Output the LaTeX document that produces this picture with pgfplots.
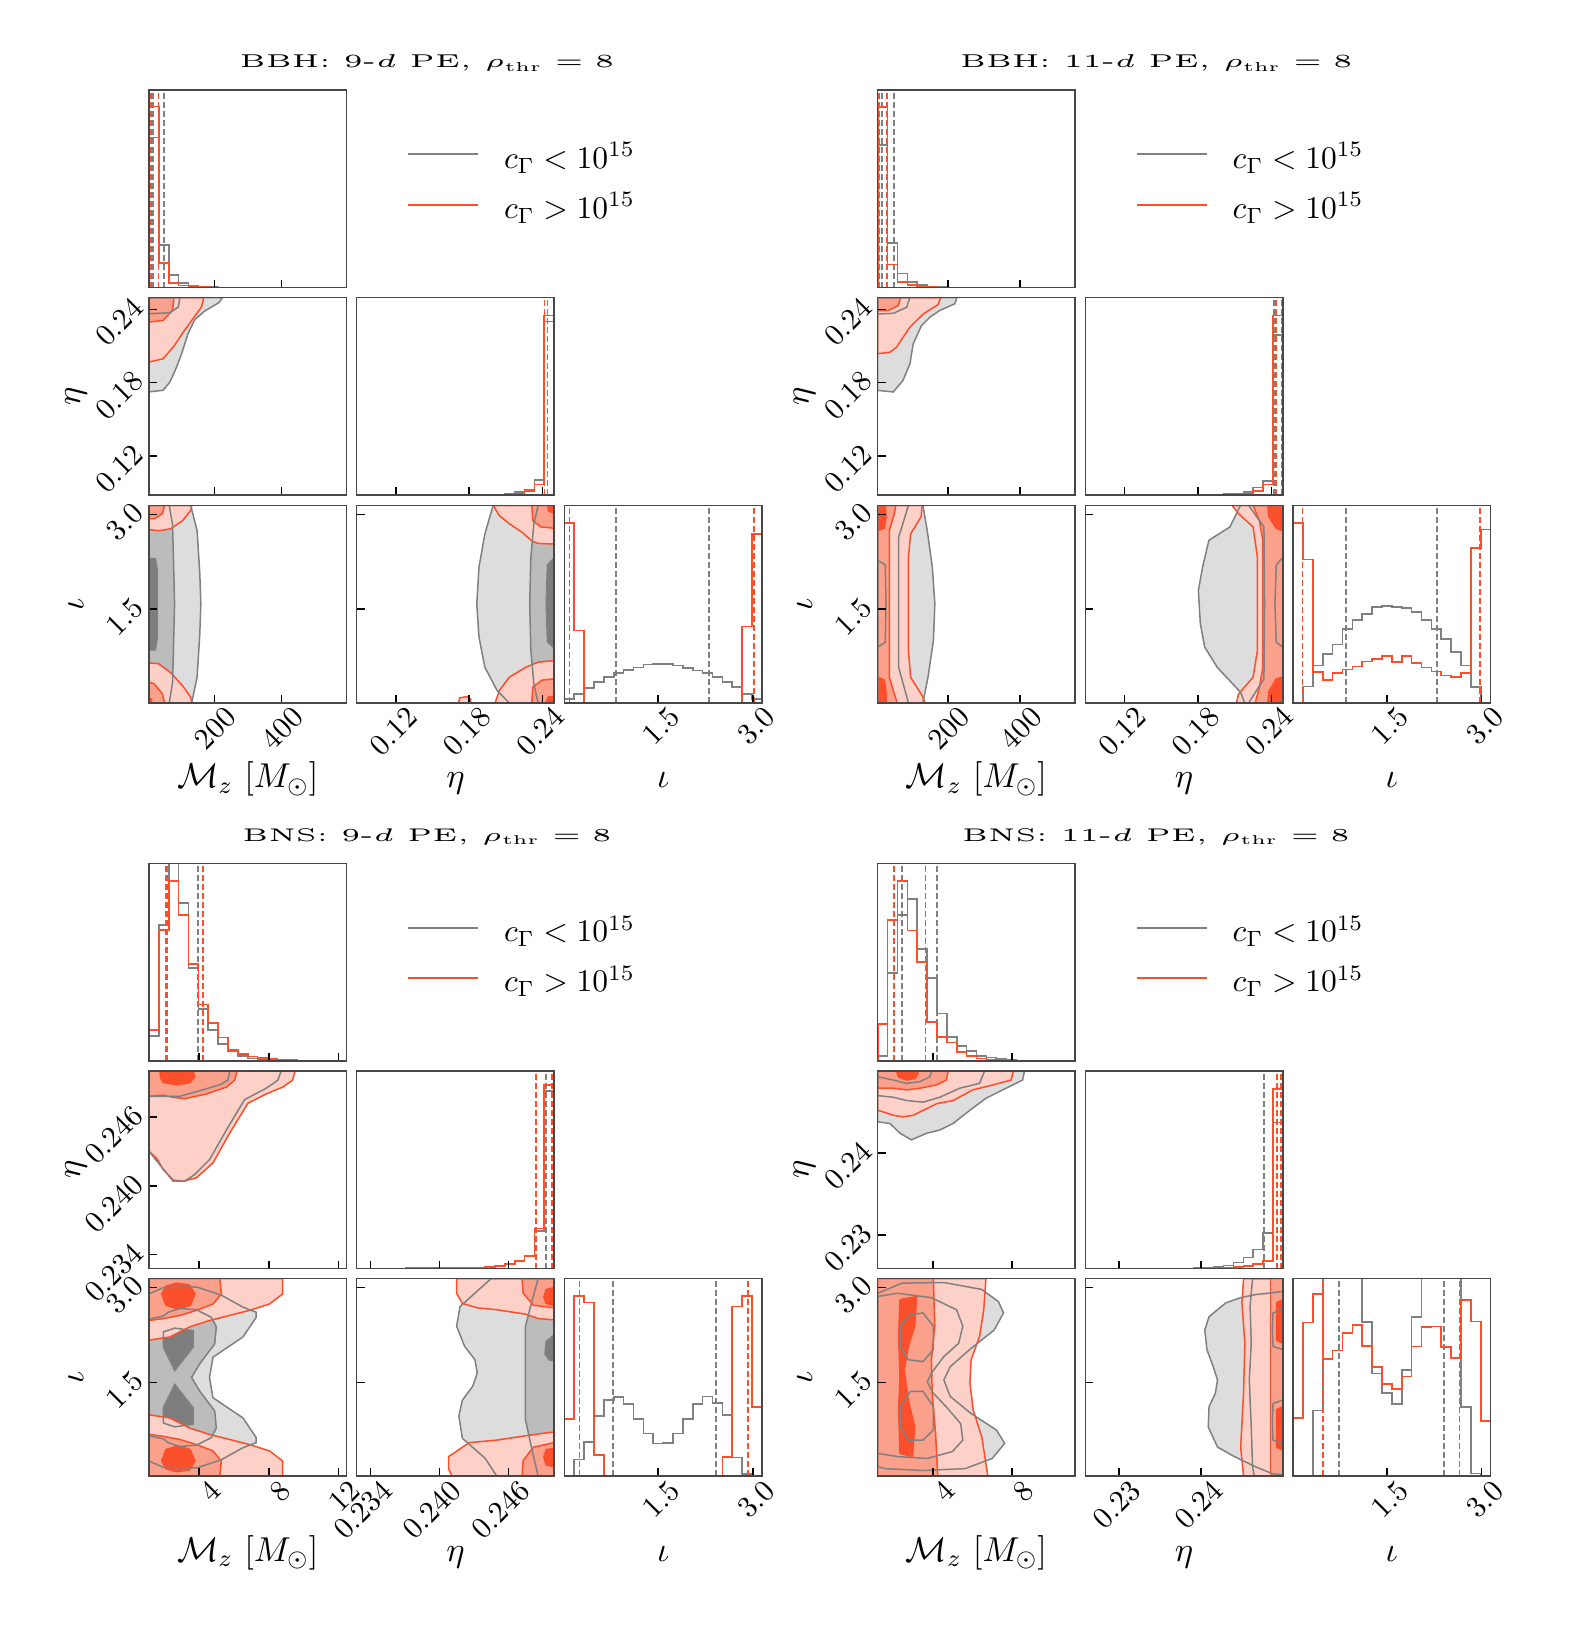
\RequirePackage{fix-cm}
\documentclass[border=0pt]{standalone}
\usepackage{graphicx}
\usepackage{pgfplots}
\usepackage{pgfplotstable}
\pgfplotsset{compat=1.18}

\definecolor{cred}{RGB}{252,78,42}
\definecolor{gline}{RGB}{128,128,128}
\definecolor{gl}{RGB}{221,221,221}
\definecolor{gm}{RGB}{188,188,188}
\definecolor{gd}{RGB}{125,125,125}
\definecolor{rl}{RGB}{253,209,199}
\definecolor{rm}{RGB}{251,160,138}
\definecolor{rd}{RGB}{252,80,44}

\pgfplotsset{
  panel/.style={
    scale only axis, width=65.83pt, height=65.83pt, anchor=north west,
    axis on top, scaled ticks=false,
    axis line style={black!72, line width=0.5pt},
    tick align=inside, xtick pos=left, ytick pos=left,
    major tick length=2.6pt, major tick style={black, line width=0.5pt},
    ytick=\empty, xticklabels={}, yticklabels={},
    tick label style={font=\fontsize{10}{12}\selectfont, inner sep=0pt},
    xticklabel style={xshift=5.6pt, yshift=-3.05pt, rotate=45, anchor=east},
    yticklabel style={xshift=-3.55pt, yshift=2.2pt, rotate=45, anchor=east},
    label style={font=\fontsize{11.5}{13}\selectfont},
    xlabel style={at={(axis description cs:0.5,-0.43)}, anchor=base},
    ylabel style={at={(axis description cs:-0.37,0.5)}, anchor=center},
  },
  hg/.style={const plot, gline, line width=0.55pt, mark=none},
  hr/.style={const plot, cred, line width=0.55pt, mark=none},
  qg/.style={gline, dash pattern=on 2pt off 1pt, line width=0.6pt, mark=none},
  qr/.style={cred, dash pattern=on 2pt off 1pt, line width=0.6pt, mark=none},
  gA/.style={fill=gl, draw=none, mark=none},
  gB/.style={fill=gm, draw=none, mark=none},
  gC/.style={fill=gd, draw=none, mark=none},
  gL/.style={draw=gline, line width=0.5pt, mark=none},
  rA/.style={fill=rl, draw=cred, line width=0.5pt, mark=none},
  rB/.style={fill=rm, draw=cred, line width=0.5pt, mark=none},
  rC/.style={fill=rd, draw=cred, line width=0.5pt, mark=none},
}
\newcommand{\ttl}[2]{\fontsize{5}{6}\selectfont #1: #2-$d$ PE, $\rho_{\mbox{\fontsize{3.5}{4}\selectfont thr}} = 8$}

%% gray contour regions (filled first, outlined again above the red fills)
% BBH 9-d
\pgfplotstableread[row sep=\\]{x y\\ 6 0.2495\\ 224 0.2495\\ 214 0.2455\\ 172 0.2387\\ 142 0.2316\\ 122 0.2201\\ 103 0.2038\\ 88 0.1928\\ 68 0.1805\\ 48 0.1738\\ 6 0.1725\\ 6 0.2495\\}\gpAa
\pgfplotstableread[row sep=\\]{x y\\ 6 0.2495\\ 98 0.2495\\ 93 0.2419\\ 68 0.2372\\ 6 0.2364\\ 6 0.2495\\}\gpAb
\pgfplotstableread[row sep=\\]{x y\\ 6 3.14\\ 130 3.14\\ 149 2.74\\ 157 2.06\\ 160 1.59\\ 157 1.11\\ 149 0.43\\ 133 0.02\\ 6 0.02\\ 6 3.14\\}\gpBa
\pgfplotstableread[row sep=\\]{x y\\ 6 3.14\\ 66 3.14\\ 76 2.84\\ 82 1.59\\ 76 0.34\\ 66 0.02\\ 6 0.02\\ 6 3.14\\}\gpBb
\pgfplotstableread[row sep=\\]{x y\\ 6 2.30\\ 25 2.30\\ 31 2.10\\ 31 1.06\\ 25 0.86\\ 6 0.86\\ 6 2.30\\}\gpBc
\pgfplotstableread[row sep=\\]{x y\\ 0.2495 3.14\\ 0.1996 3.14\\ 0.1928 2.69\\ 0.1880 2.165\\ 0.1862 1.586\\ 0.1880 1.06\\ 0.1928 0.584\\ 0.2028 0.215\\ 0.2128 0.02\\ 0.2495 0.02\\ 0.2495 3.14\\}\gpCa
\pgfplotstableread[row sep=\\]{x y\\ 0.2495 3.14\\ 0.2363 3.14\\ 0.2329 2.85\\ 0.2304 2.32\\ 0.2295 1.586\\ 0.2304 0.85\\ 0.2329 0.32\\ 0.2363 0.02\\ 0.2495 0.02\\ 0.2495 3.14\\}\gpCb
\pgfplotstableread[row sep=\\]{x y\\ 0.2495 2.31\\ 0.2440 2.20\\ 0.2430 1.59\\ 0.2440 0.98\\ 0.2495 0.89\\ 0.2495 2.31\\}\gpCc
% BBH 11-d
\pgfplotstableread[row sep=\\]{x y\\ 6 0.2495\\ 225 0.2495\\ 219 0.2445\\ 177 0.2390\\ 150 0.2335\\ 127 0.2267\\ 104 0.2117\\ 95 0.1954\\ 76 0.1819\\ 49 0.1724\\ 6 0.1737\\ 6 0.2495\\}\gpDa
\pgfplotstableread[row sep=\\]{x y\\ 6 0.2495\\ 95 0.2495\\ 86 0.2417\\ 49 0.2367\\ 6 0.2362\\ 6 0.2495\\}\gpDb
\pgfplotstableread[row sep=\\]{x y\\ 6 3.14\\ 131 3.14\\ 143 2.74\\ 157 2.165\\ 164 1.586\\ 160 1.005\\ 145 0.426\\ 131 0.02\\ 6 0.02\\ 6 3.14\\}\gpEa
\pgfplotstableread[row sep=\\]{x y\\ 6 3.14\\ 91 3.14\\ 64 2.64\\ 64 0.58\\ 91 0.02\\ 6 0.02\\ 6 3.14\\}\gpEb
\pgfplotstableread[row sep=\\]{x y\\ 6 2.27\\ 27 2.20\\ 29 1.59\\ 27 0.98\\ 6 0.90\\ 6 2.27\\}\gpEc
\pgfplotstableread[row sep=\\]{x y\\ 0.2495 3.14\\ 0.2148 3.14\\ 0.2062 2.80\\ 0.1890 2.59\\ 0.1838 2.165\\ 0.1804 1.795\\ 0.1820 1.27\\ 0.1856 0.90\\ 0.1959 0.58\\ 0.2148 0.19\\ 0.2183 0.02\\ 0.2495 0.02\\ 0.2495 3.14\\}\gpFa
\pgfplotstableread[row sep=\\]{x y\\ 0.2495 3.14\\ 0.2215 3.14\\ 0.2340 2.80\\ 0.2345 1.59\\ 0.2340 0.40\\ 0.2215 0.02\\ 0.2495 0.02\\ 0.2495 3.14\\}\gpFb
\pgfplotstableread[row sep=\\]{x y\\ 0.2495 2.32\\ 0.2441 2.20\\ 0.2430 1.59\\ 0.2441 0.98\\ 0.2495 0.90\\ 0.2495 2.32\\}\gpFc
% BNS 9-d
\pgfplotstableread[row sep=\\]{x y\\ 1.13 0.25\\ 8.71 0.25\\ 8.52 0.2492\\ 7.85 0.2485\\ 6.61 0.2475\\ 5.66 0.2451\\ 4.61 0.2423\\ 3.76 0.2410\\ 3.19 0.2404\\ 2.52 0.2404\\ 1.13 0.2430\\ 1.13 0.25\\}\gpGa
\pgfplotstableread[row sep=\\]{x y\\ 1.13 0.25\\ 5.76 0.25\\ 5.66 0.2492\\ 5.19 0.2488\\ 3.85 0.2482\\ 2.90 0.2478\\ 1.13 0.2478\\ 1.13 0.25\\}\gpGb
\pgfplotstableread[row sep=\\]{x y\\ 1.13 2.90\\ 1.95 3.00\\ 3.85 3.01\\ 5.28 2.88\\ 6.52 2.69\\ 7.28 2.61\\ 7.28 2.53\\ 6.52 2.22\\ 4.80 1.90\\ 4.60 1.58\\ 4.80 1.26\\ 6.52 0.94\\ 7.28 0.63\\ 7.28 0.55\\ 6.52 0.47\\ 5.28 0.28\\ 3.85 0.15\\ 1.95 0.16\\ 1.13 0.26\\ 1.13 2.90\\}\gpHa
\pgfplotstableread[row sep=\\]{x y\\ 1.13 2.50\\ 1.95 2.55\\ 2.23 2.61\\ 2.90 2.67\\ 3.85 2.65\\ 4.71 2.53\\ 4.99 2.38\\ 4.90 2.11\\ 4.05 1.80\\ 3.57 1.58\\ 4.05 1.36\\ 4.90 1.05\\ 4.99 0.78\\ 4.71 0.63\\ 3.85 0.51\\ 2.90 0.49\\ 2.23 0.55\\ 1.95 0.61\\ 1.13 0.66\\ 1.13 2.50\\}\gpHb
\pgfplotstableread[row sep=\\]{x y\\ 1.95 2.30\\ 2.60 2.36\\ 3.66 2.32\\ 3.66 2.06\\ 2.61 1.69\\ 1.95 2.06\\ 1.95 2.30\\}\gpHc
\pgfplotstableread[row sep=\\]{x y\\ 1.95 0.86\\ 2.60 0.80\\ 3.66 0.84\\ 3.66 1.10\\ 2.61 1.47\\ 1.95 1.10\\ 1.95 0.86\\}\gpHd
\pgfplotstableread[row sep=\\]{x y\\ 0.25 3.14\\ 0.2445 3.14\\ 0.2418 2.70\\ 0.2415 2.39\\ 0.2422 2.07\\ 0.2431 1.86\\ 0.2433 1.65\\ 0.2429 1.44\\ 0.2420 1.22\\ 0.2417 0.97\\ 0.2420 0.62\\ 0.2440 0.30\\ 0.2450 0.02\\ 0.25 0.02\\ 0.25 3.14\\}\gpIa
\pgfplotstableread[row sep=\\]{x y\\ 0.25 3.14\\ 0.2486 3.14\\ 0.2481 2.81\\ 0.2475 2.39\\ 0.2475 1.65\\ 0.2475 0.91\\ 0.2481 0.41\\ 0.2486 0.02\\ 0.25 0.02\\ 0.25 3.14\\}\gpIb
\pgfplotstableread[row sep=\\]{x y\\ 0.25 2.25\\ 0.2493 2.15\\ 0.2492 1.95\\ 0.2496 1.85\\ 0.25 1.85\\ 0.25 2.25\\}\gpIc
% BNS 11-d
\pgfplotstableread[row sep=\\]{x y\\ 1.2 0.25\\ 8.63 0.25\\ 8.54 0.2489\\ 7.70 0.2479\\ 6.70 0.2467\\ 5.86 0.2452\\ 5.02 0.2436\\ 4.34 0.2428\\ 3.67 0.2424\\ 2.91 0.2416\\ 2.33 0.2424\\ 1.82 0.2436\\ 1.2 0.2438\\ 1.2 0.25\\}\gpJa
\pgfplotstableread[row sep=\\]{x y\\ 1.2 0.25\\ 6.61 0.25\\ 6.36 0.2485\\ 5.35 0.2479\\ 4.34 0.2468\\ 3.50 0.2462\\ 2.66 0.2464\\ 1.99 0.2468\\ 1.2 0.2470\\ 1.2 0.25\\}\gpJb
\pgfplotstableread[row sep=\\]{x y\\ 1.2 0.25\\ 3.92 0.25\\ 3.84 0.2493\\ 3.33 0.2487\\ 2.66 0.2485\\ 1.99 0.2489\\ 1.2 0.2493\\ 1.2 0.25\\}\gpJc
\pgfplotstableread[row sep=\\]{x y\\ 1.2 2.91\\ 2.43 3.07\\ 4.55 3.08\\ 6.47 2.97\\ 7.31 2.78\\ 7.57 2.60\\ 7.10 2.33\\ 5.93 2.04\\ 4.87 1.75\\ 4.55 1.54\\ 4.87 1.28\\ 5.93 1.01\\ 7.21 0.75\\ 7.63 0.54\\ 7.00 0.30\\ 5.62 0.14\\ 3.49 0.11\\ 1.58 0.14\\ 1.2 0.17\\ 1.2 2.91\\}\gpKa
\pgfplotstableread[row sep=\\]{x y\\ 1.2 2.86\\ 2.22 2.91\\ 3.92 2.84\\ 5.19 2.65\\ 5.51 2.39\\ 5.30 2.12\\ 4.55 1.91\\ 3.92 1.65\\ 3.71 1.51\\ 4.02 1.33\\ 4.66 1.12\\ 5.40 0.85\\ 5.51 0.59\\ 4.98 0.41\\ 3.71 0.30\\ 2.22 0.33\\ 1.2 0.38\\ 1.2 2.86\\}\gpKb
\pgfplotstableread[row sep=\\]{x y\\ 2.33 2.39\\ 2.86 2.57\\ 3.49 2.60\\ 4.02 2.39\\ 4.02 2.02\\ 3.49 1.83\\ 2.75 1.86\\ 2.33 2.07\\ 2.33 2.39\\}\gpKc
\pgfplotstableread[row sep=\\]{x y\\ 2.33 1.12\\ 2.86 1.36\\ 3.49 1.36\\ 4.02 1.12\\ 4.02 0.75\\ 3.49 0.59\\ 2.75 0.59\\ 2.33 0.80\\ 2.33 1.12\\}\gpKd
\pgfplotstableread[row sep=\\]{x y\\ 0.25 2.94\\ 0.2482 2.91\\ 0.24665 2.89\\ 0.24485 2.84\\ 0.24305 2.76\\ 0.24202 2.65\\ 0.24099 2.54\\ 0.24047 2.33\\ 0.24073 2.02\\ 0.2415 1.75\\ 0.24202 1.54\\ 0.24176 1.33\\ 0.24099 1.12\\ 0.24089 0.80\\ 0.24202 0.48\\ 0.24407 0.33\\ 0.24665 0.17\\ 0.24871 0.06\\ 0.25 0.04\\ 0.25 2.94\\}\gpLa
\pgfplotstableread[row sep=\\]{x y\\ 0.25 3.14\\ 0.2463 3.14\\ 0.2460 2.70\\ 0.24614 2.12\\ 0.2459 1.54\\ 0.24614 0.80\\ 0.2463 0.17\\ 0.2465 0.02\\ 0.25 0.02\\ 0.25 3.14\\}\gpLb
\pgfplotstableread[row sep=\\]{x y\\ 0.25 2.65\\ 0.2488 2.60\\ 0.24871 2.33\\ 0.2488 2.07\\ 0.25 2.02\\ 0.25 2.65\\}\gpLc
\pgfplotstableread[row sep=\\]{x y\\ 0.25 1.22\\ 0.2488 1.17\\ 0.24871 0.85\\ 0.2488 0.59\\ 0.25 0.54\\ 0.25 1.22\\}\gpLd

\begin{document}
\begin{tikzpicture}
\path[use as bounding box] (0,0) rectangle (527pt,-542pt);

%% titles
\node[anchor=base west, inner sep=0pt] at (79.7pt,-22.57pt) {\resizebox{124.8pt}{4.3pt}{\ttl{BBH}{9}}};
\node[anchor=base west, inner sep=0pt] at (319.8pt,-22.57pt) {\resizebox{130.8pt}{4.3pt}{\ttl{BBH}{11}}};
\node[anchor=base west, inner sep=0pt] at (80.6pt,-280.33pt) {\resizebox{123pt}{4.3pt}{\ttl{BNS}{9}}};
\node[anchor=base west, inner sep=0pt] at (320.5pt,-280.33pt) {\resizebox{129.2pt}{4.3pt}{\ttl{BNS}{11}}};

%% legends
\foreach \dx/\dy in {0/0, 242.9/0, 0/-257.77, 242.9/-257.77} {
  \draw[gline, line width=0.65pt] (136.1pt+\dx pt,-51.43pt+\dy pt) -- (159.4pt+\dx pt,-51.43pt+\dy pt);
  \draw[cred, line width=0.65pt] (136.1pt+\dx pt,-68.33pt+\dy pt) -- (159.4pt+\dx pt,-68.33pt+\dy pt);
  \node[anchor=base west, inner sep=0pt, font=\fontsize{10.5}{12}\selectfont] at (167.8pt+\dx pt,-56.1pt+\dy pt) {$c_\Gamma < 10^{15}$};
  \node[anchor=base west, inner sep=0pt, font=\fontsize{10.5}{12}\selectfont] at (167.8pt+\dx pt,-72.77pt+\dy pt) {$c_\Gamma > 10^{15}$};
}

%%%%%%%%%%%%%%%% BBH 9-d %%%%%%%%%%%%%%%%
\begin{axis}[panel, at={(49.67pt,-30pt)}, xmin=6, xmax=593, ymin=0, ymax=1, xtick={200,400}]
\addplot[hg] coordinates {(6,0)(6,0.76)(35,0.215)(65,0.063)(94,0.024)(123,0.010)(153,0.005)(182,0.002)(211,0)(593,0)};
\addplot[qg] coordinates {(17,0)(17,1)};
\addplot[qg] coordinates {(51,0)(51,1)};
\addplot[hr] coordinates {(6,0)(6,0.916)(35,0.125)(65,0.024)(94,0.010)(123,0.004)(153,0.001)(182,0)(593,0)};
\addplot[qr] coordinates {(11,0)(11,1)};
\addplot[qr] coordinates {(34,0)(34,1)};
\end{axis}

\begin{axis}[panel, at={(49.67pt,-99.23pt)}, xmin=6, xmax=593, ymin=0.088, ymax=0.2495,
  xtick={200,400}, ytick={0.12,0.18,0.24}, yticklabels={$0.12$,$0.18$,$0.24$}, ylabel={$\eta$}]
\addplot[gA] table {\gpAa};
\addplot[gB] table {\gpAb};
\addplot[rA] coordinates {(6,0.2495)(169,0.2495)(162,0.2419)(137,0.2324)(108,0.2214)(78,0.2091)(48,0.1996)(6,0.1969)(6,0.2495)};
\addplot[rB] coordinates {(6,0.2495)(80,0.2495)(76,0.2392)(48,0.2309)(6,0.2296)(6,0.2495)};
\addplot[gL] table {\gpAa};
\addplot[gL] table {\gpAb};
\end{axis}

\begin{axis}[panel, at={(118.9pt,-99.23pt)}, xmin=0.088, xmax=0.2495, ymin=0, ymax=1, xtick={0.12,0.18,0.24}]
\addplot[hg] coordinates {(0.088,0)(0.1930,0.002)(0.2011,0.004)(0.2091,0.008)(0.2172,0.015)(0.2253,0.029)(0.2334,0.076)(0.2414,0.88)(0.2495,0.88)(0.2495,0)};
\addplot[qg] coordinates {(0.2440,0)(0.2440,1)};
\addplot[qg] coordinates {(0.2493,0)(0.2493,1)};
\addplot[hr] coordinates {(0.088,0)(0.2011,0.002)(0.2091,0.004)(0.2172,0.008)(0.2253,0.020)(0.2334,0.054)(0.2414,0.91)(0.2495,0.91)(0.2495,0)};
\addplot[qr] coordinates {(0.2415,0)(0.2415,1)};
\addplot[qr] coordinates {(0.2490,0)(0.2490,1)};
\end{axis}

\begin{axis}[panel, at={(49.67pt,-168.47pt)}, xmin=6, xmax=593, ymin=0.02, ymax=3.14,
  xtick={200,400}, xticklabels={$200$,$400$}, ytick={1.5,3.0}, yticklabels={$1.5$,$3.0$},
  xlabel={$\mathcal{M}_z\ [M_\odot]$}, ylabel={$\iota$}]
\addplot[gA] table {\gpBa};
\addplot[gB] table {\gpBb};
\addplot[gC] table {\gpBc};
\addplot[rA] coordinates {(6,3.14)(133,3.14)(130,3.06)(106,2.90)(70,2.77)(34,2.74)(6,2.76)(6,3.14)};
\addplot[rB] coordinates {(6,3.14)(52,3.14)(46,3.01)(22,2.93)(6,2.93)(6,3.14)};
\addplot[rA] coordinates {(6,0.02)(133,0.02)(130,0.11)(106,0.29)(70,0.50)(34,0.64)(6,0.65)(6,0.02)};
\addplot[rB] coordinates {(6,0.02)(52,0.02)(46,0.16)(22,0.32)(6,0.35)(6,0.02)};
\addplot[rC] coordinates {(6,0.02)(14,0.02)(13,0.08)(6,0.09)(6,0.02)};
\addplot[gL] table {\gpBa};
\addplot[gL] table {\gpBb};
\addplot[gL] table {\gpBc};
\end{axis}

\begin{axis}[panel, at={(118.9pt,-168.47pt)}, xmin=0.088, xmax=0.2495, ymin=0.02, ymax=3.14,
  xtick={0.12,0.18,0.24}, xticklabels={$0.12$,$0.18$,$0.24$}, ytick={1.5,3.0}, xlabel={$\eta$}]
\addplot[gA] table {\gpCa};
\addplot[gB] table {\gpCb};
\addplot[gC] table {\gpCc};
\addplot[rA] coordinates {(0.1996,3.14)(0.2046,2.98)(0.2128,2.85)(0.2229,2.72)(0.2312,2.58)(0.2363,2.54)(0.2495,2.53)(0.2495,3.14)(0.1996,3.14)};
\addplot[rB] coordinates {(0.2312,3.14)(0.2320,2.90)(0.2386,2.80)(0.2495,2.78)(0.2495,3.14)(0.2312,3.14)};
\addplot[rC] coordinates {(0.2440,3.14)(0.2450,3.05)(0.2495,3.02)(0.2495,3.14)(0.2440,3.14)};
\addplot[rA] coordinates {(0.2012,0.02)(0.2046,0.215)(0.2128,0.426)(0.2262,0.584)(0.2363,0.663)(0.2495,0.69)(0.2495,0.02)(0.2012,0.02)};
\addplot[rB] coordinates {(0.2312,0.02)(0.2320,0.27)(0.2395,0.38)(0.2495,0.40)(0.2495,0.02)(0.2312,0.02)};
\addplot[rC] coordinates {(0.2428,0.02)(0.2445,0.11)(0.2495,0.13)(0.2495,0.02)(0.2428,0.02)};
\addplot[rA] coordinates {(0.1712,0.02)(0.1723,0.10)(0.1780,0.12)(0.1812,0.08)(0.1812,0.02)(0.1712,0.02)};
\addplot[gL] table {\gpCa};
\addplot[gL] table {\gpCb};
\addplot[gL] table {\gpCc};
\end{axis}

\begin{axis}[panel, at={(188.13pt,-168.47pt)}, xmin=0.02, xmax=3.14, ymin=0, ymax=1,
  xtick={1.5,3.0}, xticklabels={$1.5$,$3.0$}, xlabel={$\iota$}]
\addplot[hg] coordinates {(0.02,0)(0.02,0.02)(0.176,0.045)(0.332,0.076)(0.488,0.105)(0.644,0.13)(0.80,0.15)(0.956,0.167)(1.112,0.18)(1.268,0.194)(1.424,0.198)(1.58,0.198)(1.736,0.19)(1.892,0.177)(2.048,0.164)(2.204,0.15)(2.36,0.13)(2.516,0.105)(2.672,0.08)(2.828,0.045)(2.984,0.02)(3.14,0.02)(3.14,0)};
\addplot[qg] coordinates {(0.84,0)(0.84,1)};
\addplot[qg] coordinates {(2.30,0)(2.30,1)};
\addplot[hr] coordinates {(0.02,0)(0.02,0.912)(0.176,0.367)(0.332,0)(2.828,0.387)(2.984,0.856)(3.14,0.856)(3.14,0)};
\addplot[qr] coordinates {(0.10,0)(0.10,1)};
\addplot[qr] coordinates {(3.02,0)(3.02,1)};
\end{axis}

%%%%%%%%%%%%%%%% BBH 11-d %%%%%%%%%%%%%%%%
\begin{axis}[panel, at={(292.57pt,-30pt)}, xmin=6, xmax=552, ymin=0, ymax=1, xtick={200,400}]
\addplot[hg] coordinates {(6,0)(6,0.72)(33,0.226)(61,0.071)(88,0.029)(115,0.012)(143,0.004)(170,0.002)(197,0)(552,0)};
\addplot[qg] coordinates {(17,0)(17,1)};
\addplot[qg] coordinates {(52,0)(52,1)};
\addplot[hr] coordinates {(6,0)(6,0.915)(33,0.117)(61,0.029)(88,0.012)(115,0.004)(143,0.001)(170,0)(552,0)};
\addplot[qr] coordinates {(10.5,0)(10.5,1)};
\addplot[qr] coordinates {(31,0)(31,1)};
\end{axis}

\begin{axis}[panel, at={(292.57pt,-99.23pt)}, xmin=6, xmax=552, ymin=0.088, ymax=0.2495,
  xtick={200,400}, ytick={0.12,0.18,0.24}, yticklabels={$0.12$,$0.18$,$0.24$}, ylabel={$\eta$}]
\addplot[gA] table {\gpDa};
\addplot[gB] table {\gpDb};
\addplot[rA] coordinates {(6,0.2495)(180,0.2495)(173,0.2438)(132,0.2362)(95,0.2254)(58,0.2090)(40,0.2049)(6,0.2037)(6,0.2495)};
\addplot[rB] coordinates {(6,0.2495)(69,0.2495)(63,0.2430)(35,0.2390)(6,0.2390)(6,0.2495)};
\addplot[gL] table {\gpDa};
\addplot[gL] table {\gpDb};
\end{axis}

\begin{axis}[panel, at={(361.8pt,-99.23pt)}, xmin=0.088, xmax=0.2495, ymin=0, ymax=1, xtick={0.12,0.18,0.24}]
\addplot[hg] coordinates {(0.088,0)(0.1930,0.002)(0.2011,0.005)(0.2091,0.009)(0.2172,0.017)(0.2253,0.039)(0.2334,0.071)(0.2414,0.81)(0.2495,0.81)(0.2495,0)};
\addplot[qg] coordinates {(0.2419,0)(0.2419,1)};
\addplot[qg] coordinates {(0.2492,0)(0.2492,1)};
\addplot[hr] coordinates {(0.088,0)(0.2011,0.002)(0.2091,0.004)(0.2172,0.008)(0.2253,0.022)(0.2334,0.054)(0.2414,0.91)(0.2495,0.91)(0.2495,0)};
\addplot[qr] coordinates {(0.2438,0)(0.2438,1)};
\addplot[qr] coordinates {(0.2490,0)(0.2490,1)};
\end{axis}

\begin{axis}[panel, at={(292.57pt,-168.47pt)}, xmin=6, xmax=552, ymin=0.02, ymax=3.14,
  xtick={200,400}, xticklabels={$200$,$400$}, ytick={1.5,3.0}, yticklabels={$1.5$,$3.0$},
  xlabel={$\mathcal{M}_z\ [M_\odot]$}, ylabel={$\iota$}]
\addplot[gA] table {\gpEa};
\addplot[gB] table {\gpEb};
\addplot[gC] table {\gpEc};
\addplot[rA] coordinates {(6,3.14)(129,3.14)(126,2.96)(97,2.69)(91,2.32)(91,0.85)(97,0.426)(129,0.135)(137,0.02)(6,0.02)(6,3.14)};
\addplot[rB] coordinates {(6,3.14)(56,3.14)(52,3.01)(38,2.74)(38,0.426)(52,0.16)(60,0.02)(6,0.02)(6,3.14)};
\addplot[rC] coordinates {(6,3.14)(27,3.14)(29,2.95)(24,2.78)(6,2.74)(6,3.14)};
\addplot[rC] coordinates {(6,0.02)(29,0.02)(29,0.20)(24,0.38)(6,0.43)(6,0.02)};
\addplot[gL] table {\gpEa};
\addplot[gL] table {\gpEb};
\addplot[gL] table {\gpEc};
\end{axis}

\begin{axis}[panel, at={(361.8pt,-168.47pt)}, xmin=0.088, xmax=0.2495, ymin=0.02, ymax=3.14,
  xtick={0.12,0.18,0.24}, xticklabels={$0.12$,$0.18$,$0.24$}, ytick={1.5,3.0}, xlabel={$\eta$}]
\addplot[gA] table {\gpFa};
\addplot[gB] table {\gpFb};
\addplot[gC] table {\gpFc};
\addplot[rA] coordinates {(0.2080,3.14)(0.2132,3.01)(0.2251,2.80)(0.2287,2.32)(0.2287,0.85)(0.2251,0.426)(0.2132,0.16)(0.2115,0.02)(0.2495,0.02)(0.2495,3.14)(0.2080,3.14)};
\addplot[rB] coordinates {(0.2251,3.14)(0.2303,2.90)(0.2331,2.59)(0.2331,0.58)(0.2303,0.27)(0.2269,0.02)(0.2495,0.02)(0.2495,3.14)(0.2251,3.14)};
\addplot[rC] coordinates {(0.2372,3.14)(0.2380,2.96)(0.2441,2.78)(0.2495,2.74)(0.2495,3.14)(0.2372,3.14)};
\addplot[rC] coordinates {(0.2372,0.02)(0.2380,0.20)(0.2441,0.40)(0.2495,0.426)(0.2495,0.02)(0.2372,0.02)};
\addplot[gL] table {\gpFa};
\addplot[gL] table {\gpFb};
\addplot[gL] table {\gpFc};
\end{axis}

\begin{axis}[panel, at={(431.03pt,-168.47pt)}, xmin=0.02, xmax=3.14, ymin=0, ymax=1,
  xtick={1.5,3.0}, xticklabels={$1.5$,$3.0$}, xlabel={$\iota$}]
\addplot[hg] coordinates {(0.02,0)(0.176,0.083)(0.332,0.19)(0.488,0.248)(0.644,0.296)(0.80,0.375)(0.956,0.42)(1.112,0.45)(1.268,0.485)(1.424,0.49)(1.58,0.485)(1.736,0.48)(1.892,0.46)(2.048,0.42)(2.204,0.375)(2.36,0.324)(2.516,0.257)(2.672,0.19)(2.828,0.079)(2.984,0)(3.14,0)};
\addplot[qg] coordinates {(0.85,0)(0.85,1)};
\addplot[qg] coordinates {(2.29,0)(2.29,1)};
\addplot[hr] coordinates {(0.02,0)(0.02,0.912)(0.176,0.726)(0.332,0.155)(0.488,0.117)(0.644,0.152)(0.80,0.169)(0.956,0.184)(1.112,0.209)(1.268,0.223)(1.424,0.236)(1.58,0.206)(1.736,0.238)(1.892,0.201)(2.048,0.18)(2.204,0.159)(2.36,0.139)(2.516,0.13)(2.672,0.152)(2.828,0.784)(2.984,0.878)(3.14,0.878)(3.14,0)};
\addplot[qr] coordinates {(0.17,0)(0.17,1)};
\addplot[qr] coordinates {(2.97,0)(2.97,1)};
\end{axis}

%%%%%%%%%%%%%%%% BNS 9-d %%%%%%%%%%%%%%%%
\begin{axis}[panel, at={(49.67pt,-287.77pt)}, xmin=1.13, xmax=12.46, ymin=0, ymax=1, xtick={4,8,12}]
\addplot[hg] coordinates {(1.13,0)(1.13,0.126)(1.70,0.689)(2.26,1.05)(2.83,0.80)(3.40,0.47)(3.96,0.264)(4.53,0.155)(5.10,0.084)(5.66,0.047)(6.23,0.025)(6.80,0.012)(7.36,0.006)(7.93,0.003)(8.49,0.002)(9.06,0)(12.46,0)};
\addplot[qg] coordinates {(2.10,0)(2.10,1)};
\addplot[qg] coordinates {(3.94,0)(3.94,1)};
\addplot[hr] coordinates {(1.13,0)(1.13,0.155)(1.70,0.664)(2.26,0.911)(2.83,0.74)(3.40,0.49)(3.96,0.286)(4.53,0.193)(5.10,0.118)(5.66,0.054)(6.23,0.034)(6.80,0.022)(7.36,0.015)(7.93,0.010)(8.49,0.006)(9.06,0.004)(9.63,0.002)(10.19,0)(12.46,0)};
\addplot[qr] coordinates {(2.14,0)(2.14,1)};
\addplot[qr] coordinates {(4.23,0)(4.23,1)};
\end{axis}

\begin{axis}[panel, at={(49.67pt,-357pt)}, xmin=1.13, xmax=12.46, ymin=0.2328, ymax=0.25,
  xtick={4,8,12}, ytick={0.234,0.240,0.246}, yticklabels={$0.234$,$0.240$,$0.246$}, ylabel={$\eta$}]
\addplot[gA] table {\gpGa};
\addplot[gB] table {\gpGb};
\addplot[rA] coordinates {(1.13,0.25)(9.51,0.25)(9.37,0.2492)(8.80,0.2486)(7.85,0.2480)(6.81,0.2472)(5.76,0.2446)(4.80,0.2420)(3.85,0.2407)(3.09,0.2404)(2.52,0.2405)(1.95,0.2414)(1.57,0.2424)(1.13,0.2430)(1.13,0.25)};
\addplot[rB] coordinates {(1.13,0.25)(6.18,0.25)(6.04,0.2492)(5.57,0.2486)(4.42,0.2480)(3.19,0.2476)(2.52,0.2477)(1.95,0.2479)(1.13,0.2478)(1.13,0.25)};
\addplot[rC] coordinates {(1.76,0.25)(1.80,0.2494)(1.95,0.2490)(2.71,0.2488)(3.47,0.2490)(3.76,0.2495)(3.66,0.25)(1.76,0.25)};
\addplot[gL] table {\gpGa};
\addplot[gL] table {\gpGb};
\end{axis}

\begin{axis}[panel, at={(118.9pt,-357pt)}, xmin=0.2328, xmax=0.25, ymin=0, ymax=1, xtick={0.234,0.240,0.246}]
\addplot[hg] coordinates {(0.2328,0)(0.2371,0.001)(0.2414,0.002)(0.24312,0.003)(0.24398,0.006)(0.24484,0.011)(0.2457,0.020)(0.24656,0.036)(0.24742,0.060)(0.24828,0.19)(0.24914,0.90)(0.25,0.90)(0.25,0)};
\addplot[qg] coordinates {(0.2493,0)(0.2493,1)};
\addplot[qg] coordinates {(0.2499,0)(0.2499,1)};
\addplot[hr] coordinates {(0.2328,0)(0.2371,0.001)(0.2414,0.002)(0.24312,0.004)(0.24398,0.007)(0.24484,0.013)(0.2457,0.022)(0.24656,0.039)(0.24742,0.064)(0.24828,0.203)(0.24914,0.93)(0.25,0.93)(0.25,0)};
\addplot[qr] coordinates {(0.2484,0)(0.2484,1)};
\addplot[qr] coordinates {(0.2498,0)(0.2498,1)};
\end{axis}

\begin{axis}[panel, at={(49.67pt,-426.23pt)}, xmin=1.13, xmax=12.46, ymin=0.02, ymax=3.14,
  xtick={4,8,12}, xticklabels={$4$,$8$,$12$}, ytick={1.5,3.0}, yticklabels={$1.5$,$3.0$},
  xlabel={$\mathcal{M}_z\ [M_\odot]$}, ylabel={$\iota$}]
\addplot[gA] table {\gpHa};
\addplot[gB] table {\gpHb};
\addplot[gC] table {\gpHc};
\addplot[gC] table {\gpHd};
\addplot[rA] coordinates {(1.13,3.14)(8.80,3.14)(8.80,2.90)(8.04,2.74)(6.90,2.64)(5.76,2.56)(4.60,2.48)(3.47,2.38)(2.33,2.22)(1.13,2.17)(1.13,3.14)};
\addplot[rB] coordinates {(1.13,3.14)(5.19,3.14)(5.28,2.90)(4.80,2.74)(3.85,2.64)(2.90,2.56)(1.95,2.51)(1.13,2.48)(1.13,3.14)};
\addplot[rC] coordinates {(1.86,2.90)(2.10,3.02)(2.70,3.07)(3.45,3.04)(3.76,2.90)(3.50,2.72)(2.80,2.66)(2.10,2.72)(1.86,2.90)};
\addplot[rA] coordinates {(1.13,0.02)(8.80,0.02)(8.80,0.26)(8.04,0.42)(6.90,0.52)(5.76,0.60)(4.60,0.68)(3.47,0.78)(2.33,0.94)(1.13,0.99)(1.13,0.02)};
\addplot[rB] coordinates {(1.13,0.02)(5.19,0.02)(5.28,0.26)(4.80,0.42)(3.85,0.52)(2.90,0.60)(1.95,0.65)(1.13,0.68)(1.13,0.02)};
\addplot[rC] coordinates {(1.86,0.26)(2.10,0.14)(2.70,0.09)(3.45,0.12)(3.76,0.26)(3.50,0.44)(2.80,0.50)(2.10,0.44)(1.86,0.26)};
\addplot[gL] table {\gpHa};
\addplot[gL] table {\gpHb};
\addplot[gL] table {\gpHc};
\addplot[gL] table {\gpHd};
\end{axis}

\begin{axis}[panel, at={(118.9pt,-426.23pt)}, xmin=0.2328, xmax=0.25, ymin=0.02, ymax=3.14,
  xtick={0.234,0.240,0.246}, xticklabels={$0.234$,$0.240$,$0.246$}, ytick={1.5,3.0}, xlabel={$\eta$}]
\addplot[gA] table {\gpIa};
\addplot[gB] table {\gpIb};
\addplot[gC] table {\gpIc};
\addplot[rA] coordinates {(0.2415,3.14)(0.2415,2.91)(0.2420,2.75)(0.2433,2.68)(0.2450,2.65)(0.2475,2.58)(0.2486,2.51)(0.25,2.49)(0.25,3.14)(0.2415,3.14)};
\addplot[rB] coordinates {(0.2472,3.14)(0.2473,2.91)(0.2482,2.72)(0.25,2.68)(0.25,3.14)(0.2472,3.14)};
\addplot[rC] coordinates {(0.25,3.0)(0.2493,2.97)(0.2491,2.85)(0.2493,2.75)(0.25,2.72)(0.25,3.0)};
\addplot[rA] coordinates {(0.2411,0.02)(0.2408,0.14)(0.2408,0.33)(0.2426,0.55)(0.2450,0.59)(0.2479,0.67)(0.25,0.72)(0.25,0.02)(0.2411,0.02)};
\addplot[rB] coordinates {(0.2472,0.02)(0.2473,0.27)(0.2482,0.48)(0.25,0.55)(0.25,0.02)(0.2472,0.02)};
\addplot[rC] coordinates {(0.25,0.46)(0.2493,0.44)(0.2491,0.32)(0.2493,0.20)(0.25,0.17)(0.25,0.46)};
\addplot[gL] table {\gpIa};
\addplot[gL] table {\gpIb};
\addplot[gL] table {\gpIc};
\end{axis}

\begin{axis}[panel, at={(188.13pt,-426.23pt)}, xmin=0.02, xmax=3.14, ymin=0, ymax=1,
  xtick={1.5,3.0}, xticklabels={$1.5$,$3.0$}, xlabel={$\iota$}]
\addplot[hg] coordinates {(0.02,0)(0.176,0.085)(0.332,0.174)(0.488,0.305)(0.644,0.386)(0.80,0.40)(0.956,0.365)(1.112,0.288)(1.268,0.217)(1.424,0.166)(1.58,0.169)(1.736,0.217)(1.892,0.288)(2.048,0.364)(2.204,0.403)(2.36,0.372)(2.516,0.31)(2.672,0.095)(2.828,0.01)(2.984,0)(3.14,0)};
\addplot[qg] coordinates {(0.79,0)(0.79,1)};
\addplot[qg] coordinates {(2.41,0)(2.41,1)};
\addplot[hr] coordinates {(0.02,0)(0.02,0.288)(0.176,0.914)(0.332,0.88)(0.488,0.107)(0.644,0.004)(2.516,0.098)(2.672,0.86)(2.828,0.914)(2.984,0.352)(3.14,0.352)(3.14,0)};
\addplot[qr] coordinates {(0.26,0)(0.26,1)};
\addplot[qr] coordinates {(2.92,0)(2.92,1)};
\end{axis}

%%%%%%%%%%%%%%%% BNS 11-d %%%%%%%%%%%%%%%%
\begin{axis}[panel, at={(292.57pt,-287.77pt)}, xmin=1.2, xmax=11.2, ymin=0, ymax=1, xtick={4,8}]
\addplot[hg] coordinates {(1.2,0)(1.2,0.025)(1.7,0.445)(2.2,0.74)(2.7,0.82)(3.2,0.566)(3.7,0.42)(4.2,0.239)(4.7,0.121)(5.2,0.076)(5.7,0.05)(6.2,0.025)(6.7,0.017)(7.2,0.010)(7.7,0.004)(8.2,0.002)(8.7,0)(11.2,0)};
\addplot[qg] coordinates {(2.41,0)(2.41,1)};
\addplot[qg] coordinates {(4.22,0)(4.22,1)};
\addplot[hr] coordinates {(1.2,0)(1.2,0.185)(1.7,0.714)(2.2,0.91)(2.7,0.66)(3.2,0.50)(3.7,0.198)(4.2,0.121)(4.7,0.092)(5.2,0.045)(5.7,0.025)(6.2,0.012)(6.7,0.005)(7.2,0.002)(7.7,0)(11.2,0)};
\addplot[qr] coordinates {(2.04,0)(2.04,1)};
\addplot[qr] coordinates {(3.62,0)(3.62,1)};
\end{axis}

\begin{axis}[panel, at={(292.57pt,-357pt)}, xmin=1.2, xmax=11.2, ymin=0.2259, ymax=0.25,
  xtick={4,8}, ytick={0.23,0.24}, yticklabels={$0.23$,$0.24$}, ylabel={$\eta$}]
\addplot[gA] table {\gpJa};
\addplot[gB] table {\gpJb};
\addplot[gC] table {\gpJc};
\addplot[rA] coordinates {(1.2,0.25)(8.07,0.25)(7.96,0.2489)(7.03,0.2483)(6.02,0.2477)(5.02,0.2464)(4.17,0.2460)(3.67,0.2454)(3.0,0.2446)(2.49,0.2444)(1.99,0.2446)(1.49,0.2450)(1.2,0.2452)(1.2,0.25)};
\addplot[rB] coordinates {(1.2,0.25)(4.76,0.25)(4.68,0.2489)(4.17,0.2483)(3.33,0.2479)(2.66,0.2477)(1.99,0.2479)(1.2,0.2479)(1.2,0.25)};
\addplot[rC] coordinates {(2.16,0.25)(2.24,0.2493)(2.66,0.2489)(3.08,0.2491)(3.25,0.2497)(3.2,0.25)(2.16,0.25)};
\addplot[gL] table {\gpJa};
\addplot[gL] table {\gpJb};
\addplot[gL] table {\gpJc};
\end{axis}

\begin{axis}[panel, at={(361.8pt,-357pt)}, xmin=0.2259, xmax=0.25, ymin=0, ymax=1, xtick={0.23,0.24}]
\addplot[hg] coordinates {(0.2259,0)(0.23916,0.002)(0.24036,0.004)(0.24157,0.008)(0.24277,0.015)(0.24398,0.030)(0.24518,0.055)(0.24639,0.097)(0.24759,0.18)(0.2488,0.74)(0.25,0.74)(0.25,0)};
\addplot[qg] coordinates {(0.2477,0)(0.2477,1)};
\addplot[qg] coordinates {(0.2499,0)(0.2499,1)};
\addplot[hr] coordinates {(0.2259,0)(0.24036,0.001)(0.24157,0.002)(0.24277,0.004)(0.24398,0.008)(0.24518,0.013)(0.24639,0.022)(0.24759,0.039)(0.2488,0.91)(0.25,0.91)(0.25,0)};
\addplot[qr] coordinates {(0.2493,0)(0.2493,1)};
\addplot[qr] coordinates {(0.2497,0)(0.2497,1)};
\end{axis}

\begin{axis}[panel, at={(292.57pt,-426.23pt)}, xmin=1.2, xmax=11.2, ymin=0.02, ymax=3.14,
  xtick={4,8}, xticklabels={$4$,$8$}, ytick={1.5,3.0}, yticklabels={$1.5$,$3.0$},
  xlabel={$\mathcal{M}_z\ [M_\odot]$}, ylabel={$\iota$}]
\addplot[gA] table {\gpKa};
\addplot[gB] table {\gpKb};
\addplot[gC] table {\gpKc};
\addplot[gC] table {\gpKd};
\addplot[rA] coordinates {(1.2,3.14)(6.68,3.14)(6.57,2.65)(6.36,2.23)(5.93,1.86)(5.87,1.49)(6.04,1.06)(6.47,0.64)(6.78,0.02)(1.2,0.02)(1.2,3.14)};
\addplot[rB] coordinates {(1.2,3.14)(4.02,3.14)(4.09,2.39)(3.92,1.86)(3.96,1.33)(4.13,0.70)(4.24,0.02)(1.2,0.02)(1.2,3.14)};
\addplot[rC] coordinates {(2.33,2.81)(3.17,2.86)(3.07,2.39)(2.75,2.07)(2.54,1.70)(2.75,1.22)(3.07,0.80)(2.96,0.33)(2.33,0.38)(2.26,1.06)(2.33,1.59)(2.26,2.23)(2.33,2.81)};
\addplot[gL] table {\gpKa};
\addplot[gL] table {\gpKb};
\addplot[gL] table {\gpKc};
\addplot[gL] table {\gpKd};
\end{axis}

\begin{axis}[panel, at={(361.8pt,-426.23pt)}, xmin=0.2259, xmax=0.25, ymin=0.02, ymax=3.14,
  xtick={0.23,0.24}, xticklabels={$0.23$,$0.24$}, ytick={1.5,3.0}, xlabel={$\eta$}]
\addplot[gA] table {\gpLa};
\addplot[gB] table {\gpLb};
\addplot[gC] table {\gpLc};
\addplot[gC] table {\gpLd};
\addplot[rA] coordinates {(0.2452,3.14)(0.2450,2.76)(0.24536,2.12)(0.2452,1.33)(0.24485,0.48)(0.2452,0.02)(0.25,0.02)(0.25,3.14)(0.2452,3.14)};
\addplot[rB] coordinates {(0.24846,3.14)(0.24846,0.02)(0.25,0.02)(0.25,3.14)(0.24846,3.14)};
\addplot[rC] coordinates {(0.25,2.81)(0.24923,2.76)(0.24923,2.17)(0.25,2.12)(0.25,2.81)};
\addplot[rC] coordinates {(0.25,1.12)(0.24923,1.07)(0.24923,0.48)(0.25,0.43)(0.25,1.12)};
\addplot[gL] table {\gpLa};
\addplot[gL] table {\gpLb};
\addplot[gL] table {\gpLc};
\addplot[gL] table {\gpLd};
\end{axis}

\begin{axis}[panel, at={(431.03pt,-426.23pt)}, xmin=0.02, xmax=3.14, ymin=0, ymax=1,
  xtick={1.5,3.0}, xticklabels={$1.5$,$3.0$}, xlabel={$\iota$}]
\addplot[hg] coordinates {(0.02,0)(0.332,0.332)(0.488,1.05)(1.112,0.78)(1.268,0.52)(1.424,0.42)(1.58,0.365)(1.736,0.538)(1.892,0.805)(2.048,1.05)(2.672,0.35)(2.828,0.014)(2.984,0)(3.14,0)};
\addplot[qg] coordinates {(0.74,0)(0.74,1)};
\addplot[qg] coordinates {(2.41,0)(2.41,1)};
\addplot[hr] coordinates {(0.02,0)(0.02,0.296)(0.176,0.778)(0.332,0.922)(0.488,0.592)(0.644,0.636)(0.80,0.724)(0.956,0.766)(1.112,0.66)(1.268,0.552)(1.424,0.467)(1.58,0.44)(1.736,0.504)(1.892,0.657)(2.048,0.755)(2.204,0.758)(2.36,0.653)(2.516,0.597)(2.672,0.893)(2.828,0.783)(2.984,0.279)(3.14,0.279)(3.14,0)};
\addplot[qr] coordinates {(0.49,0)(0.49,1)};
\addplot[qr] coordinates {(2.65,0)(2.65,1)};
\end{axis}

\end{tikzpicture}
\end{document}
